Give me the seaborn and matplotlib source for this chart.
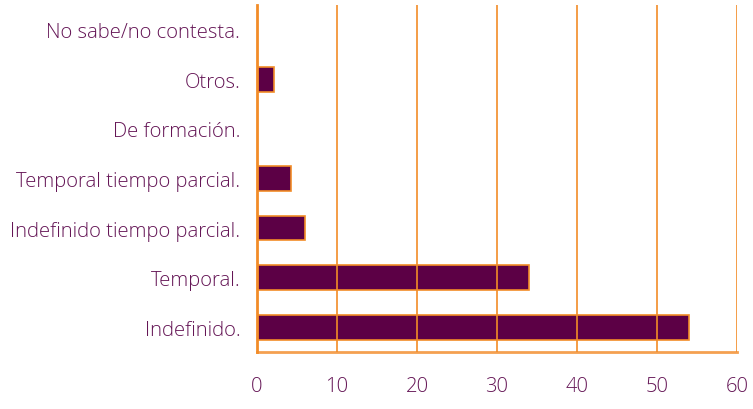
import matplotlib
matplotlib.use("Agg")
import matplotlib.pyplot as plt
import seaborn as sns
import pandas as pd
import numpy as np

# Contract types, top to bottom as shown
categories = [
    "No sabe/no contesta.",
    "Otros.",
    "De formación.",
    "Temporal tiempo parcial.",
    "Indefinido tiempo parcial.",
    "Temporal.",
    "Indefinido.",
]
values = [0, 2.1, 0, 4.2, 6.0, 34.0, 54.0]
x_ticks = [0, 10, 20, 30, 40, 50, 60]

orange = "#F28C28"
purple_bar = "#5C0045"
purple_text = "#651656"

sns.set_style("white")
plt.rcParams["font.family"] = ["Open Sans", "DejaVu Sans"]

df = pd.DataFrame({"tipo": categories, "valor": values})

fig = plt.figure(figsize=(7.53, 4.10), dpi=100)
ax = fig.add_axes([257 / 753, 1 - 353 / 410, 480 / 753, 347 / 410])

sns.barplot(data=df, x="valor", y="tipo", order=categories, color=purple_bar,
            saturation=1, width=0.5, edgecolor=orange, linewidth=1.2, ax=ax)

ax.set_xlim(0, 60)
ax.set_ylim(len(categories) - 0.5, -0.5)
ax.set_xticks(x_ticks)
ax.set_xlabel("")
ax.set_ylabel("")

# orange grid drawn over the bars
ax.set_axisbelow(False)
ax.grid(axis="x", color=orange, linewidth=1.2, zorder=5)
ax.grid(axis="y", visible=False)

for side in ["top", "right"]:
    ax.spines[side].set_visible(False)
ax.spines["left"].set_color(orange)
ax.spines["left"].set_linewidth(2)
ax.spines["bottom"].set_color("#F4A050")
ax.spines["bottom"].set_linewidth(2)
ax.spines["left"].set_zorder(6)

# tick marks between categories
ax.set_yticks(np.arange(-0.5, len(categories), 1), minor=True)
ax.tick_params(axis="y", which="major", length=0, pad=12,
               labelsize=14.6, labelcolor=purple_text)
ax.tick_params(axis="y", which="minor", length=7, width=1.5,
               color=orange, direction="out")
ax.tick_params(axis="x", which="major", length=7, width=1.3, color=orange,
               direction="out", pad=10, labelsize=14.6, labelcolor=purple_text)

for lbl in ax.get_xticklabels() + ax.get_yticklabels():
    lbl.set_fontweight("light")

fig.savefig("out.png", dpi=100)
